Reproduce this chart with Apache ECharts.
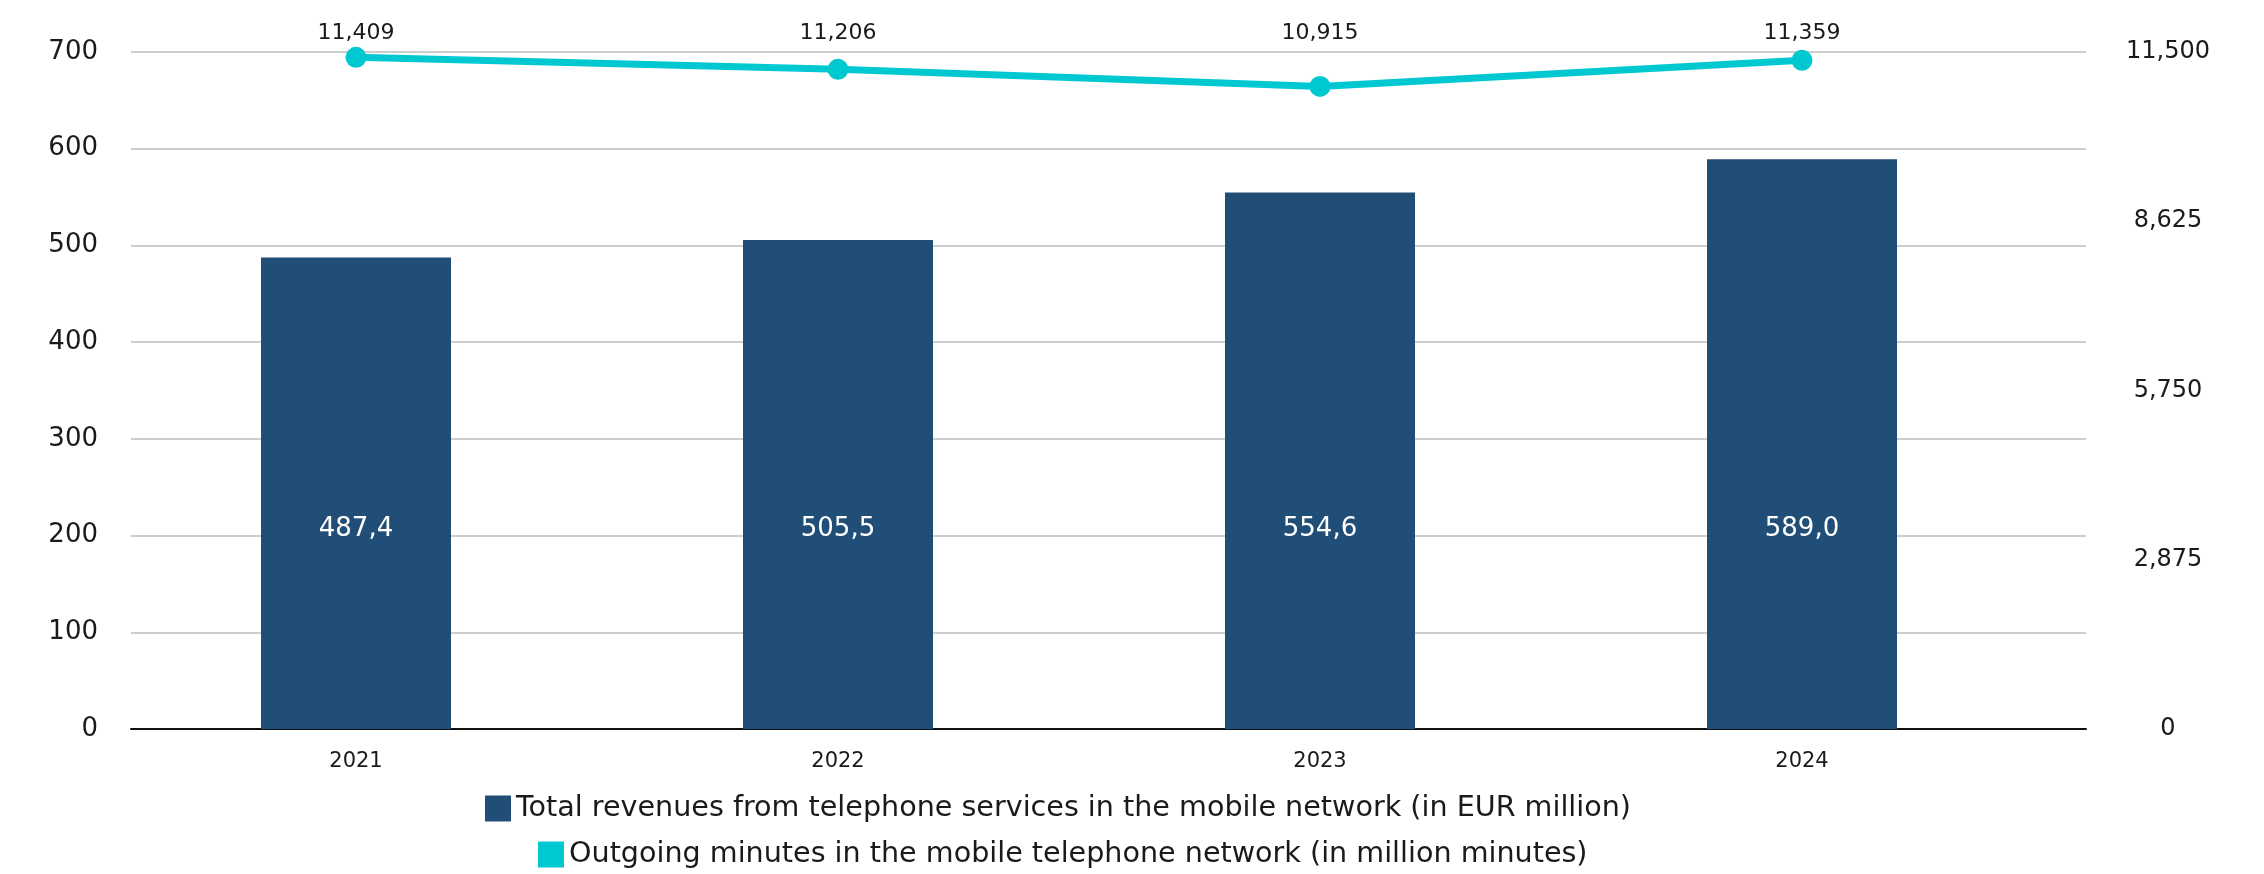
<!DOCTYPE html>
<html>
<head>
<meta charset="utf-8">
<script src="https://cdn.jsdelivr.net/npm/echarts@6/dist/echarts.min.js"></script>
<style>
  html, body { margin: 0; padding: 0; background: #ffffff; }
  #chart { width: 2264px; height: 874px; }
</style>
</head>
<body>
<div id="chart"></div>
<script>
// Mobile telephony: revenues (bars, left axis) and outgoing minutes (line, right axis)
const years = ['2021', '2022', '2023', '2024'];
const revenues = [487.4, 505.5, 554.6, 589.0];          // EUR million
const minutes = [11409, 11206, 10915, 11359];           // million minutes
const revenueAxis = { min: 0, max: 700, interval: 100 };
const minutesAxis = { min: 0, max: 11500, interval: 2875 };
const revenueName = 'Total revenues from telephone services in the mobile network (in EUR million)';
const minutesName = 'Outgoing minutes in the mobile telephone network (in million minutes)';

const FONT = 'DejaVu Sans';
const BAR_COLOR = '#214E76';
const LINE_COLOR = '#00C8D1';
const TEXT_COLOR = '#1a1a1a';

const fmtThousands = v => Number(v).toLocaleString('en-US');
const fmtDecimal = v => Number(v).toFixed(1).replace('.', ',');

// Two grids share the same vertical extent: the first carries the gridlines,
// value axes and baseline, the second places the categories and the series.
const gridTop = 52;
const gridBottom = 145;

const chart = echarts.init(document.getElementById('chart'), null, { renderer: 'canvas' });

const option = {
  backgroundColor: '#ffffff',
  animation: false,
  textStyle: { fontFamily: FONT, color: TEXT_COLOR },
  grid: [
    { left: 131, right: 178, top: gridTop, bottom: gridBottom },
    { left: 115, width: 1928, top: gridTop, bottom: gridBottom }
  ],
  legend: [
    {
      data: [revenueName], left: 485, top: 794, padding: 0,
      icon: 'rect', itemWidth: 26, itemHeight: 26,
      textStyle: { fontFamily: FONT, fontSize: 28.6, color: TEXT_COLOR }
    },
    {
      data: [minutesName], left: 538, top: 840, padding: 0,
      icon: 'rect', itemWidth: 26, itemHeight: 26,
      textStyle: { fontFamily: FONT, fontSize: 28.6, color: TEXT_COLOR }
    }
  ],
  xAxis: [
    {
      type: 'category', gridIndex: 0, data: years,
      axisLine: { lineStyle: { color: '#111111', width: 2 } },
      axisTick: { show: false }, axisLabel: { show: false }, splitLine: { show: false }
    },
    {
      type: 'category', gridIndex: 1, data: years,
      axisLine: { show: false }, axisTick: { show: false },
      axisLabel: { fontFamily: FONT, fontSize: 21, color: TEXT_COLOR, margin: 22 }
    }
  ],
  yAxis: [
    {
      type: 'value', gridIndex: 0, position: 'left', ...revenueAxis,
      axisLine: { show: false }, axisTick: { show: false },
      axisLabel: { fontFamily: FONT, fontSize: 26, color: TEXT_COLOR, margin: 33 },
      splitLine: { lineStyle: { color: '#BDBDBD', width: 1.5 } }
    },
    {
      type: 'value', gridIndex: 0, position: 'right', ...minutesAxis,
      axisLine: { show: false }, axisTick: { show: false },
      axisLabel: {
        fontFamily: FONT, fontSize: 24, color: TEXT_COLOR, margin: 82, align: 'center',
        formatter: fmtThousands
      },
      splitLine: { show: false }
    },
    { type: 'value', gridIndex: 1, ...revenueAxis, show: false, splitLine: { show: false } },
    { type: 'value', gridIndex: 1, ...minutesAxis, show: false, splitLine: { show: false } }
  ],
  series: [
    {
      name: revenueName, type: 'bar', xAxisIndex: 1, yAxisIndex: 2,
      data: revenues, barWidth: 190,
      itemStyle: { color: BAR_COLOR },
      label: {
        show: true, position: 'insideBottom', distance: 187,
        fontFamily: FONT, fontSize: 26, color: '#ffffff',
        formatter: p => fmtDecimal(p.value)
      },
      z: 2
    },
    {
      name: minutesName, type: 'line', xAxisIndex: 1, yAxisIndex: 3,
      data: minutes,
      symbol: 'circle', symbolSize: 21,
      lineStyle: { color: LINE_COLOR, width: 7 },
      itemStyle: { color: LINE_COLOR },
      label: {
        show: true, position: 'inside',
        fontFamily: FONT, fontSize: 22, color: TEXT_COLOR,
        formatter: p => fmtThousands(p.value)
      },
      z: 3
    }
  ]
};

chart.setOption(option);

// Keep the minutes labels on a common row above the plot area.
const labelRowY = 33;
const lineLabels = minutes.map((v, i) => {
  const pt = chart.convertToPixel({ seriesIndex: 1 }, [i, v]);
  return { value: v, label: { offset: [0, labelRowY - pt[1]] } };
});
chart.setOption({ series: [{}, { data: lineLabels }] });
</script>
</body>
</html>
